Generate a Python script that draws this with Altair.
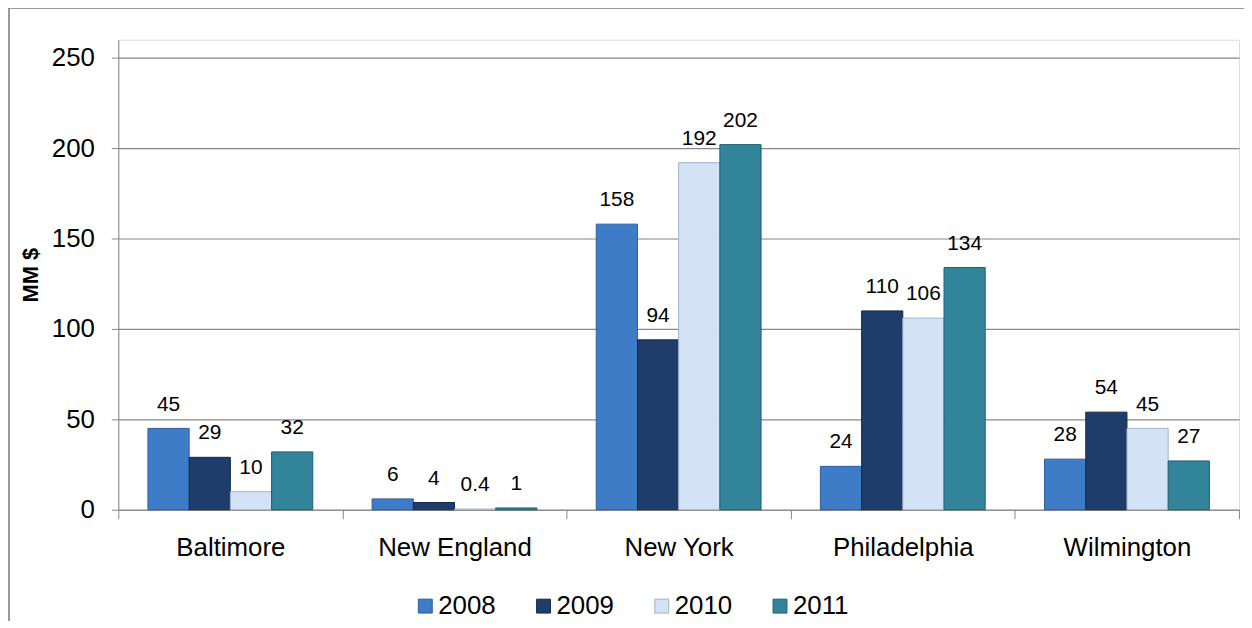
import altair as alt
import pandas as pd

regions = ["Baltimore", "New England", "New York", "Philadelphia", "Wilmington"]
years = ["2008", "2009", "2010", "2011"]
values = {
    "2008": [45, 6, 158, 24, 28],
    "2009": [29, 4, 94, 110, 54],
    "2010": [10, 0.4, 192, 106, 45],
    "2011": [32, 1, 202, 134, 27],
}
labels = {
    "2008": ["45", "6", "158", "24", "28"],
    "2009": ["29", "4", "94", "110", "54"],
    "2010": ["10", "0.4", "192", "106", "45"],
    "2011": ["32", "1", "202", "134", "27"],
}
colors = ["#3f7cc8", "#1f3d6a", "#d3e2f5", "#31849a"]
strokes = ["#2c5d9c", "#142a4c", "#9fb3cc", "#22606f"]

rows = []
for y in years:
    for i, r in enumerate(regions):
        rows.append({"Region": r, "Year": y, "Value": values[y][i], "Label": labels[y][i]})
df = pd.DataFrame(rows)

FONT = "Liberation Sans"

base = alt.Chart(df).encode(
    x=alt.X("Region:N", sort=regions,
            scale=alt.Scale(paddingInner=0, paddingOuter=0),
            axis=alt.Axis(title=None, labelFontSize=26, labelColor="black", labelFont=FONT,
                          labelPadding=16, tickBand="extent", tickSize=9, tickColor="#888888",
                          domainColor="#888888", labelAngle=0, grid=False)),
    xOffset=alt.XOffset("Year:N", sort=years,
                        scale=alt.Scale(paddingInner=0, paddingOuter=0.72)),
)

bars = base.mark_bar(strokeWidth=1).encode(
    y=alt.Y("Value:Q", scale=alt.Scale(domain=[0, 250]),
            axis=alt.Axis(title="MM $", titleFontSize=22, titleFont=FONT, titleFontWeight="bold",
                          titleColor="black", titlePadding=9,
                          values=[0, 50, 100, 150, 200, 250], labelFontSize=26, labelFont=FONT,
                          labelColor="black", labelPadding=17, tickSize=7, tickColor="#888888",
                          domainColor="#888888", gridColor="#878787", gridWidth=1.2)),
    color=alt.Color("Year:N", sort=years,
                    scale=alt.Scale(domain=years, range=colors),
                    legend=alt.Legend(orient="none", legendX=296, legendY=557,
                                      direction="horizontal", title=None,
                                      symbolType="square", symbolSize=196, symbolStrokeWidth=1,
                                      labelFontSize=26, labelFont=FONT, labelColor="black",
                                      labelOffset=0, columnPadding=35, symbolOpacity=1)),
    stroke=alt.Stroke("Year:N", sort=years, scale=alt.Scale(domain=years, range=strokes),
                      legend=None),
)

text = base.mark_text(fontSize=21, font=FONT, color="black", baseline="middle", dy=-24).encode(
    y=alt.Y("Value:Q"),
    text="Label:N",
)

border_left = alt.Chart(df).mark_rule(color="#999999", strokeWidth=2).encode(
    x=alt.value(-110), y=alt.value(-32), y2=alt.value(600)
)
border_top = alt.Chart(df).mark_rule(color="#999999", strokeWidth=2).encode(
    x=alt.value(-110), x2=alt.value(1140), y=alt.value(-32)
)

chart = alt.layer(bars, text, border_left, border_top).properties(
    width=1128, height=473,
    autosize=alt.AutoSizeParams(type="none"),
    padding={"left": 111, "top": 30, "right": 5, "bottom": 110},
).configure_view(stroke=None).configure(background="white")

chart.save("out.html", embed_options={"renderer": "svg", "actions": False})
